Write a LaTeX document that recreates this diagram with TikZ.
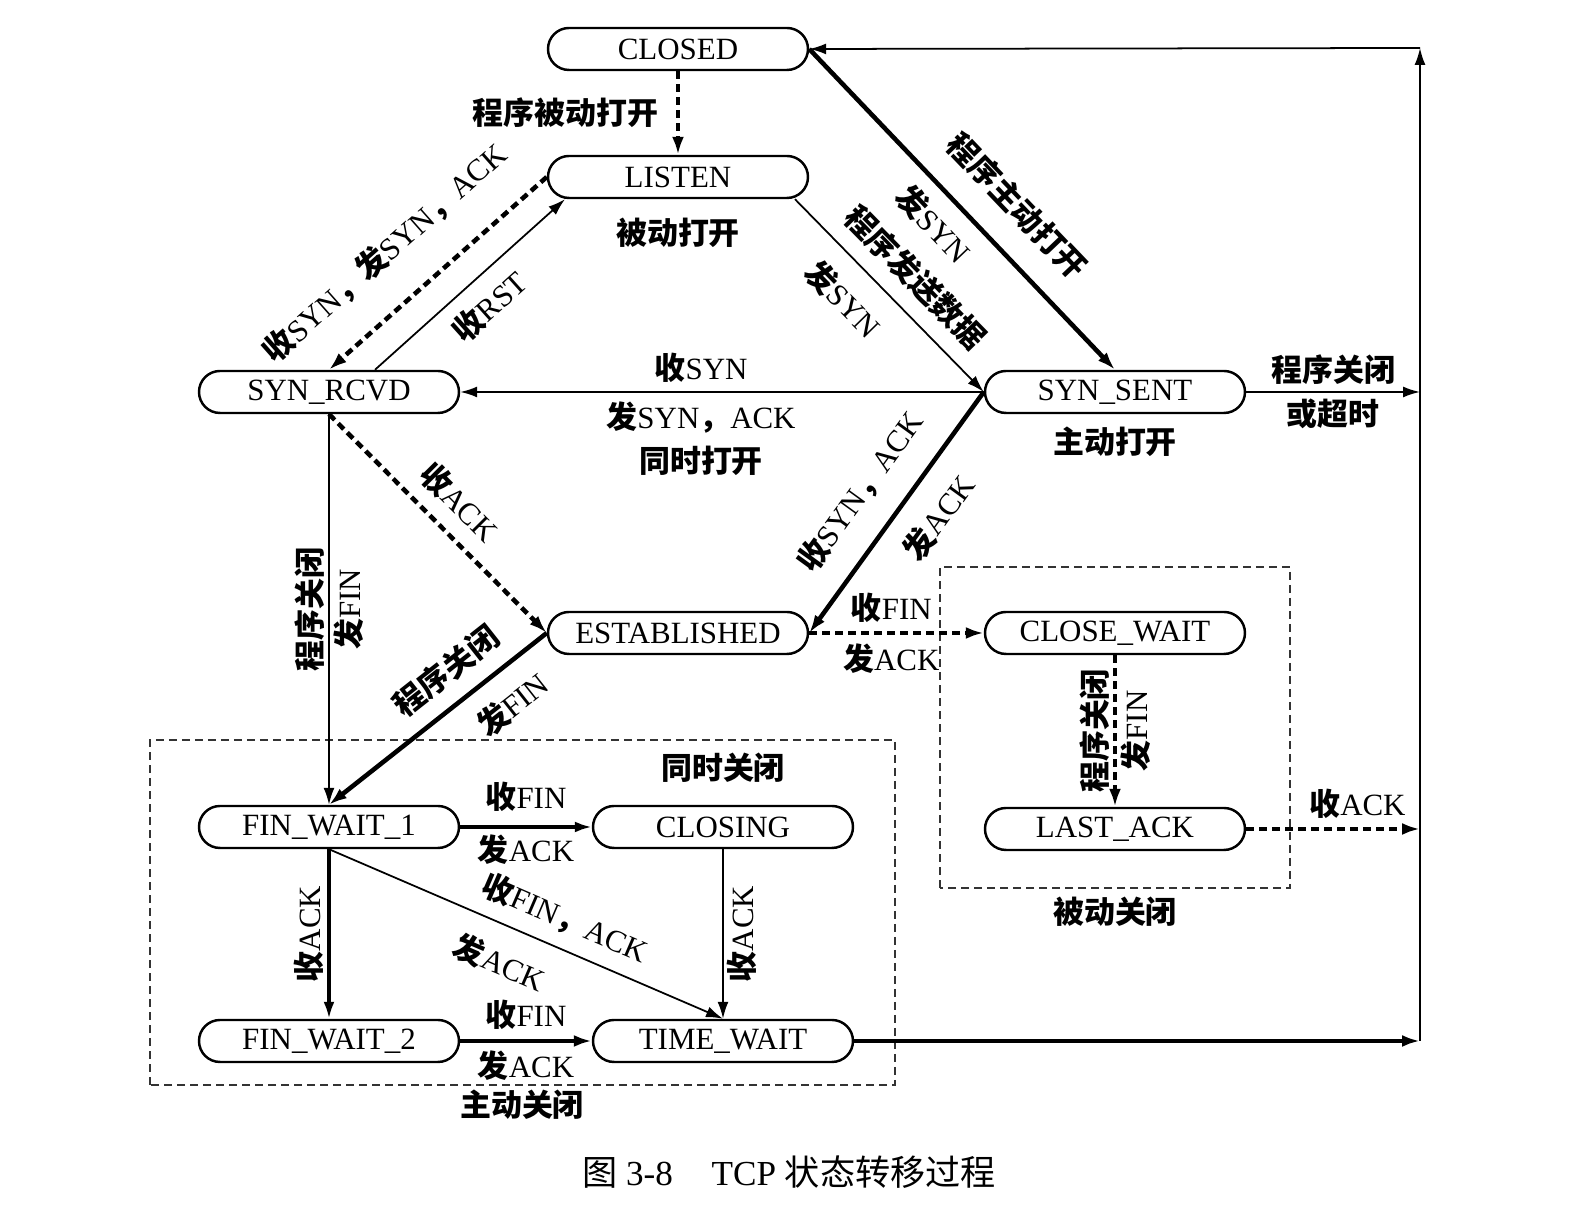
\documentclass[tikz,border=0pt]{standalone}
\usepackage{fontspec}
\setmainfont{Liberation Serif}
\newfontfamily\zhfont{Noto Sans CJK SC}
\newcommand{\zh}[1]{{\zhfont\bfseries #1}}
\usetikzlibrary{arrows.meta,positioning}

\tikzset{
  etat/.style={draw, line width=0.7pt, rounded corners=2.1mm, minimum width=2.6cm, minimum height=4.2mm, inner sep=0pt},
  lbl/.style={inner sep=1pt},
  fin/.style={line width=0.5pt, -{Latex[length=1.7mm,width=1.1mm]}},
  moyen/.style={line width=0.9pt, -{Latex[length=1.7mm,width=1.1mm]}},
  epais/.style={line width=1.3pt, -{Latex[length=1.8mm,width=1.2mm]}},
  pointille/.style={epais, dash pattern=on 0.8mm off 0.5mm},
  cadre/.style={draw=black!80, line width=0.6pt, dash pattern=on 0.8mm off 0.5mm}
}

\begin{document}
\begin{tikzpicture}[font=\fontsize{8.8}{10.5}\selectfont]
    \useasboundingbox (0,0) rectangle (15.72,12.27);

    % Etats
    \node[etat] (closed) at (6.78, 11.78) {CLOSED};
    \node[etat] (listen) at (6.78, 10.50) {LISTEN};
    \node[etat] (syn_rcvd) at (3.29, 8.35) {SYN\_RCVD};
    \node[etat] (syn_sent) at (11.15, 8.35) {SYN\_SENT};
    \node[etat] (established) at (6.78, 5.94) {ESTABLISHED};
    \node[etat] (close_wait) at (11.15, 5.94) {CLOSE\_WAIT};
    \node[etat] (last_ack) at (11.15, 3.98) {LAST\_ACK};
    \node[etat] (fin_wait_1) at (3.29, 4.00) {FIN\_WAIT\_1};
    \node[etat] (closing) at (7.23, 4.00) {CLOSING};
    \node[etat] (fin_wait_2) at (3.29, 1.86) {FIN\_WAIT\_2};
    \node[etat] (time_wait) at (7.23, 1.86) {TIME\_WAIT};
    \coordinate (retour_haut) at (14.20, 11.79);

    % Annotations
    \node[lbl, below=1.5mm of listen] (note_listen) {\zh{被动打开}};
    \node[lbl, below=0.8mm of syn_sent] (note_sent) {\zh{主动打开}};
    \node[lbl, above=1.8mm of closing] (note_closing) {\zh{同时关闭}};
    \node[lbl] (note_actif) at (5.22, 1.22) {\zh{主动关闭}};
    \node[lbl] (note_passif) at (11.15, 3.15) {\zh{被动关闭}};

    % Cadres
    \draw[cadre] (1.50, 1.42) rectangle (8.95, 4.87);
    \draw[cadre] (9.40, 3.39) rectangle (12.90, 6.60);

    % Ouverture
    \draw[pointille] (closed) -- (listen) node[lbl, midway, left=4pt] {\zh{程序被动打开}};
    \draw[pointille] (listen.west) -- (syn_rcvd.north)
        node[lbl, pos=0.59, sloped, above=0.29cm] {\zh{收}SYN\zh{，发}SYN\zh{，}ACK};
    \draw[fin] ([xshift=4.6mm]syn_rcvd.north) -- ([xshift=-11.3mm]listen.south)
        node[lbl, midway, sloped, below=0.1cm] {\zh{收}RST};
    \draw[fin] ([xshift=11.7mm]listen.south) -- (syn_sent.west)
        node[lbl, pos=0.52, sloped, above=0.12cm] {\zh{程序发送数据}}
        node[lbl, pos=0.39, sloped, below=0.16cm] {\zh{发}SYN};
    \draw[epais] (closed.east) -- (syn_sent.north)
        node[lbl, pos=0.58, sloped, above=0.22cm] {\zh{程序主动打开}}
        node[lbl, pos=0.48, sloped, below=0.1cm] {\zh{发}SYN};
    \draw[fin] (syn_sent.west) -- (syn_rcvd.east)
        node[lbl, pos=0.54, above=0.5mm] {\zh{收}SYN}
        node[lbl, pos=0.54, below=0.5mm, align=center] {\zh{发}SYN\zh{，}ACK\\[2pt]\zh{同时打开}};
    \draw[epais] (syn_sent.west) -- (established.east)
        node[lbl, pos=0.515, sloped, above=0.2cm] {\zh{收}SYN\zh{，}ACK}
        node[lbl, pos=0.43, sloped, below=0.16cm] {\zh{发}ACK};
    \draw[pointille] (syn_rcvd.south) -- (established.west)
        node[lbl, midway, sloped, above=0.1cm] {\zh{收}ACK};

    % Fermeture
    \draw[fin] (syn_rcvd.south) -- (fin_wait_1.north)
        node[lbl, midway, rotate=90, above] {\zh{程序关闭}}
        node[lbl, midway, rotate=90, below] {\zh{发}FIN};
    \draw[epais] (established.west) -- (fin_wait_1.north)
        node[lbl, pos=0.37, sloped, above=0.12cm] {\zh{程序关闭}}
        node[lbl, pos=0.256, sloped, below=0.14cm] {\zh{发}FIN};
    \draw[pointille] (established.east) -- (close_wait.west)
        node[lbl, pos=0.47, above=0.5mm] {\zh{收}FIN}
        node[lbl, pos=0.47, below=0.5mm] {\zh{发}ACK};
    \draw[pointille] (close_wait.south) -- (last_ack.north)
        node[lbl, midway, rotate=90, above] {\zh{程序关闭}}
        node[lbl, midway, rotate=90, below] {\zh{发}FIN};
    \draw[moyen] (fin_wait_1) -- (closing)
        node[lbl, midway, above=1mm] {\zh{收}FIN}
        node[lbl, midway, below=0.3mm] {\zh{发}ACK};
    \draw[moyen] (fin_wait_1) -- (fin_wait_2)
        node[lbl, midway, rotate=90, above] {\zh{收}ACK};
    \draw[fin] (fin_wait_1.south) -- (time_wait.north)
        node[lbl, pos=0.57, sloped, above=0.1cm] {\zh{收}FIN\zh{，}ACK}
        node[lbl, pos=0.47, sloped, below=0.17cm] {\zh{发}ACK};
    \draw[fin] (closing) -- (time_wait)
        node[lbl, midway, rotate=90, below] {\zh{收}ACK};
    \draw[epais] (fin_wait_2) -- (time_wait)
        node[lbl, midway, above=0.6mm] {\zh{收}FIN}
        node[lbl, midway, below=0.4mm] {\zh{发}ACK};

    % Retour vers CLOSED
    \draw[fin] (syn_sent.east) -- (syn_sent.east -| retour_haut)
        node[lbl, midway, above=0.3mm] {\zh{程序关闭}}
        node[lbl, midway, below=0.3mm] {\zh{或超时}};
    \draw[pointille] (last_ack.east) -- (last_ack.east -| retour_haut)
        node[lbl, pos=0.64, above=0.5mm] {\zh{收}ACK};
    \draw[epais] (time_wait) -- (time_wait.east -| retour_haut);
    \draw[fin] (time_wait.east -| retour_haut) -- (retour_haut);
    \draw[fin] (retour_haut) -- (closed.east);

    % Legende
    \node (legende) at (7.89, 0.55) {\fontsize{10}{12}\selectfont{\zhfont 图} 3-8\hspace{1.1em}TCP {\zhfont 状态转移过程}};
\end{tikzpicture}
\end{document}
